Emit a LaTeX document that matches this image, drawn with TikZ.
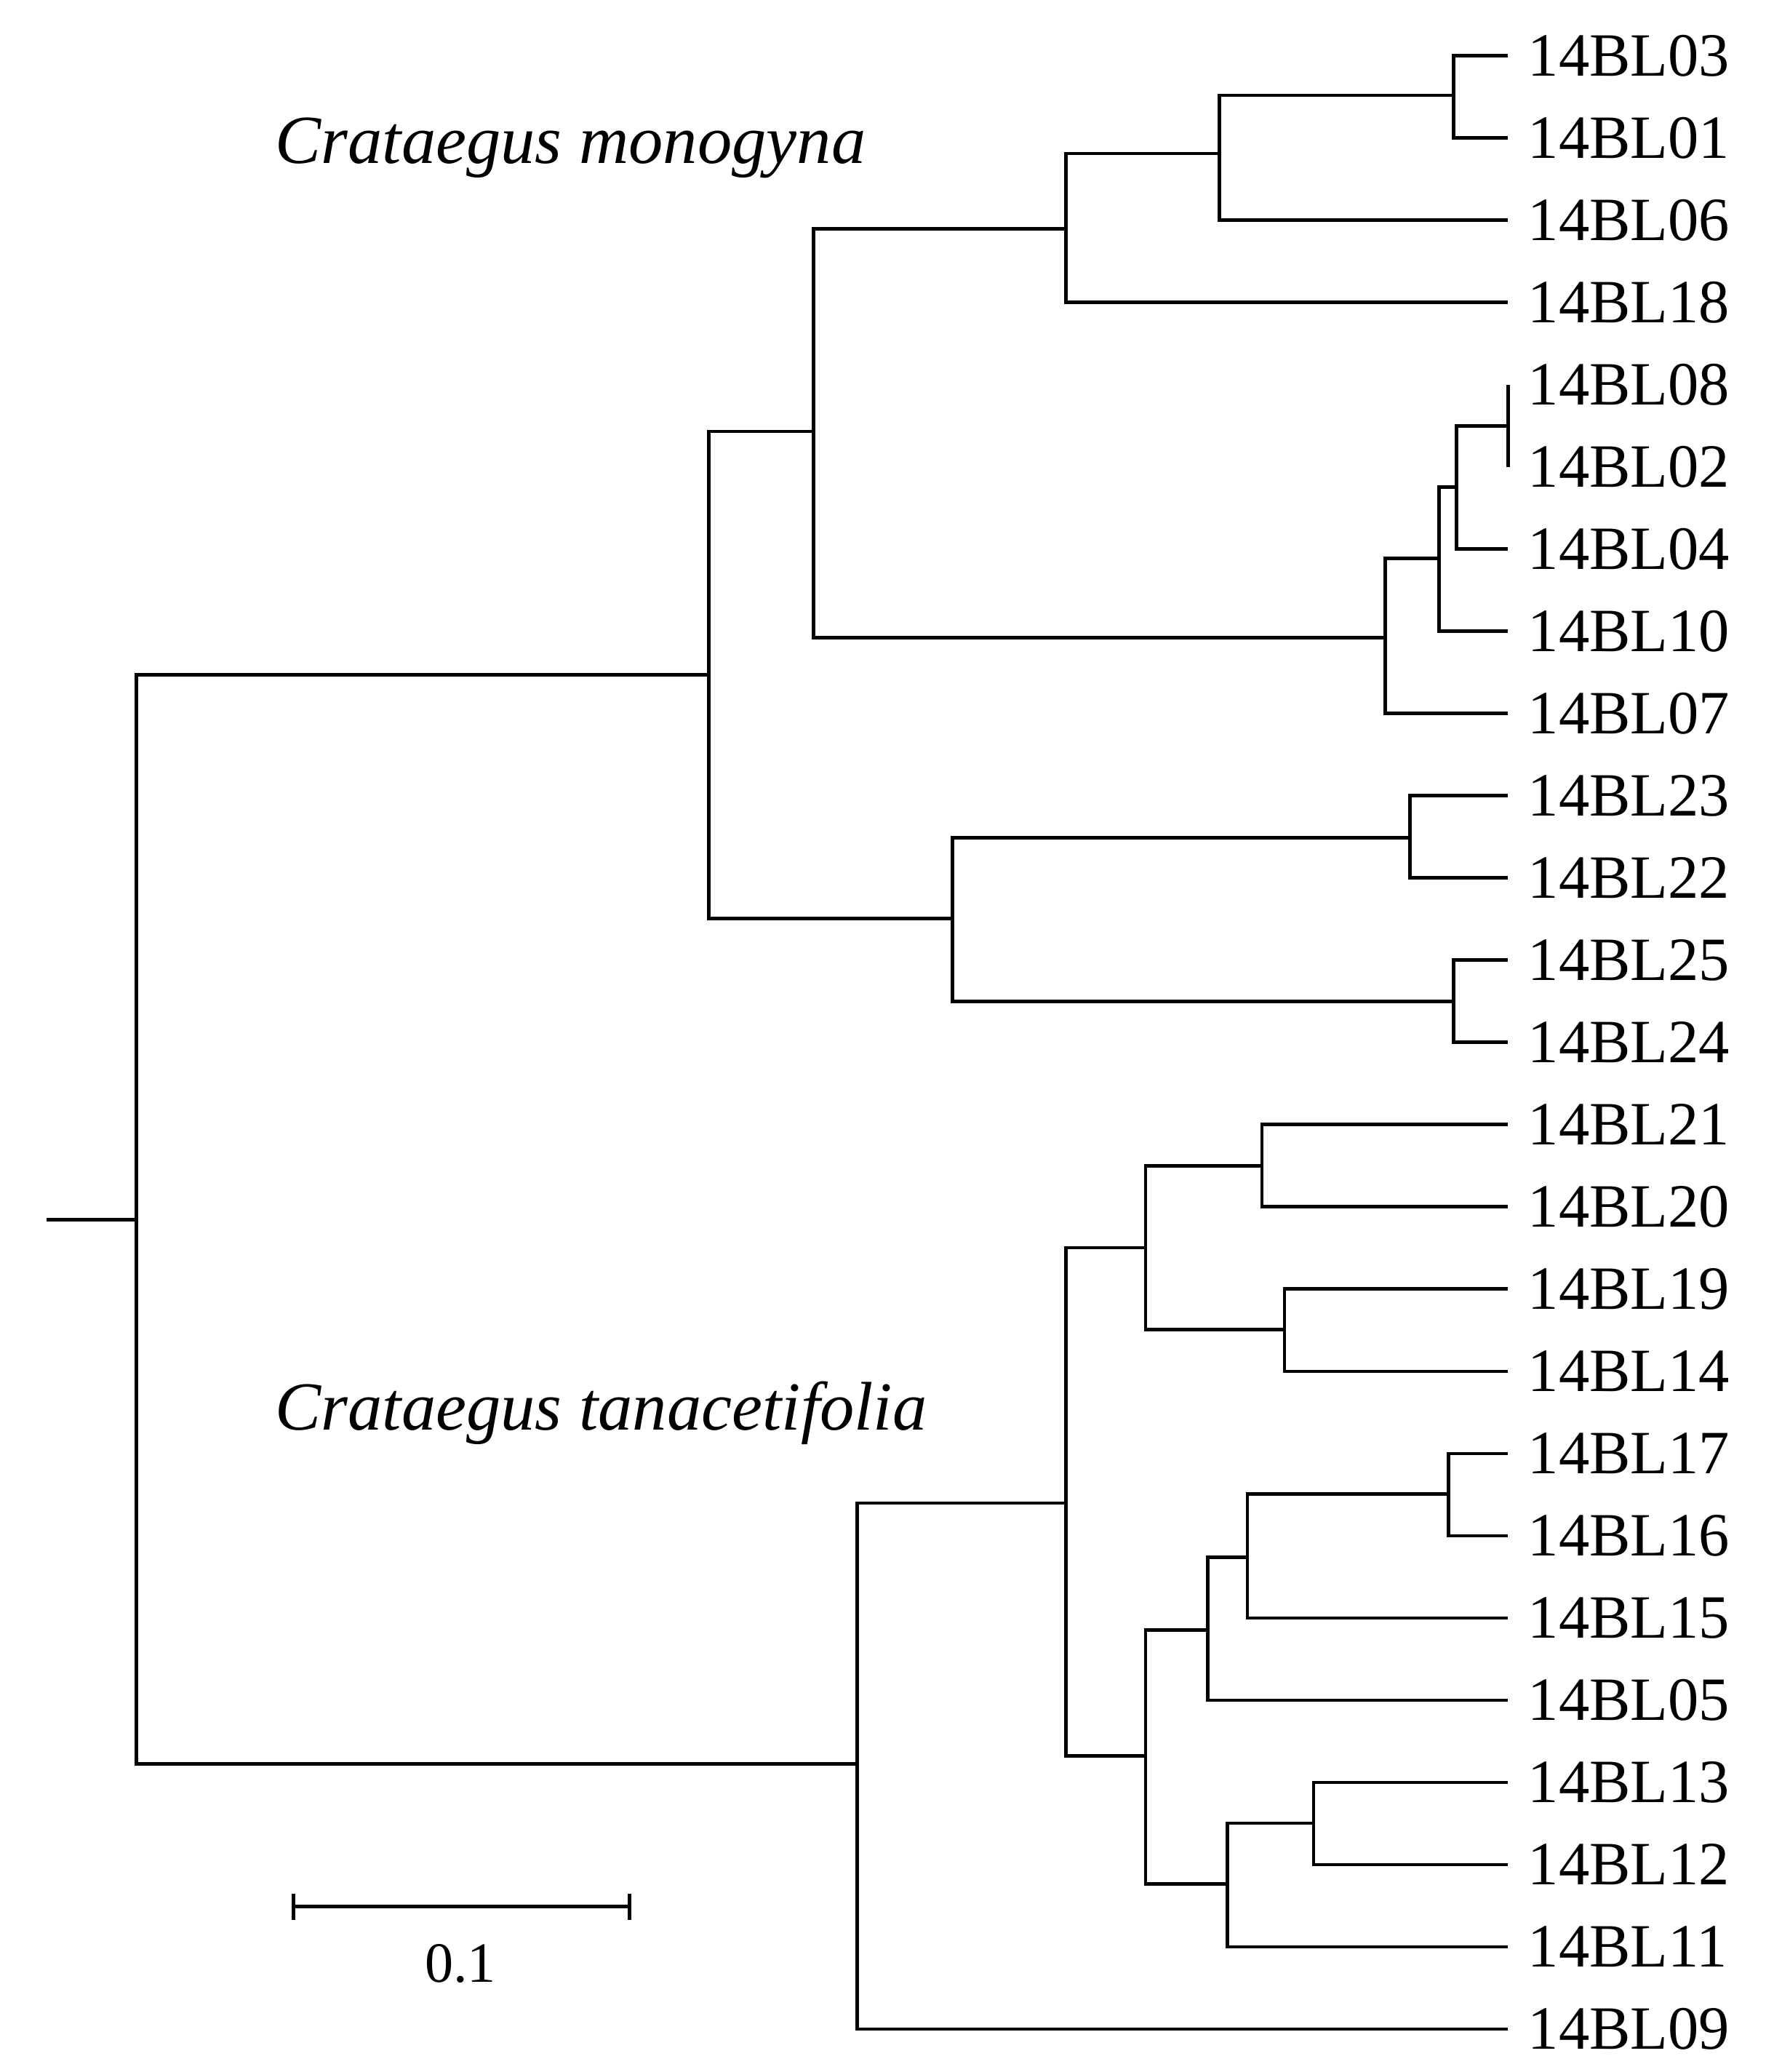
\documentclass[tikz,border=0pt]{standalone}
\usepackage{fontspec}
\setmainfont{Liberation Serif}
\begin{document}
\begin{tikzpicture}[x=1pt,y=-1pt,br/.style={line width=2.6pt},lab/.style={anchor=west,font=\fontsize{46.5}{46.5}\selectfont,inner sep=0pt}]
\useasboundingbox (0,0) rectangle (1341,1566);
\foreach \n [count=\i from 0] in {03,01,06,18,08,02,04,10,07,23,22,25,24,21,20,19,14,17,16,15,05,13,12,11,09}{
  \coordinate (L\n) at (1140,{42+62.15*\i});
  \node[lab] (T\n) at (1155,{42+62.15*\i}) {14BL\n};
}
\coordinate (root0) at (35,922);
\coordinate (r) at (103,922);
\coordinate (a) at (536,510);
\coordinate (b) at (615,326);
\coordinate (c) at (806,173);
\coordinate (d) at (922,116);
\coordinate (e) at (1099,72);
\coordinate (f) at (1047,482);
\coordinate (g) at (1088,422);
\coordinate (h) at (1101,368);
\coordinate (i) at (1140,322);
\coordinate (j) at (720,694);
\coordinate (k) at (1066,633);
\coordinate (l) at (1099,757);
\coordinate (m) at (648,1333);
\coordinate (n) at (806,1136);
\coordinate (o) at (866,943);
\coordinate (p) at (954,881);
\coordinate (q) at (971,1005);
\coordinate (s) at (866,1327);
\coordinate (t) at (913,1232);
\coordinate (u) at (943,1177);
\coordinate (v) at (1095,1129);
\coordinate (w) at (928,1424);
\coordinate (z) at (993,1378);
\draw[br] (root0) -- (r);
\foreach \p/\c in {r/a,r/m,a/b,a/j,b/c,b/f,c/d,c/L18,d/e,d/L06,e/L03,e/L01,f/g,f/L07,g/h,g/L10,h/i,h/L04,i/L08,i/L02,j/k,j/l,k/L23,k/L22,l/L25,l/L24,m/n,m/L09,n/o,n/s,o/p,o/q,p/L21,p/L20,q/L19,q/L14,s/t,s/w,t/u,t/L05,u/v,u/L15,v/L17,v/L16,w/z,w/L11,z/L13,z/L12}
  \draw[br] (\p) |- (\c);
\coordinate (s1) at (222,1441);
\coordinate (s2) at (476,1441);
\draw[br] (s1) -- (s2);
\draw[br] ([yshift=-10]s1) -- ([yshift=10]s1);
\draw[br] ([yshift=-10]s2) -- ([yshift=10]s2);
\node[font=\fontsize{43}{43}\selectfont] (sl) at (348,1484) {0.1};
\node[lab,font=\fontsize{52}{52}\selectfont\itshape] (cm) at (208,112) {Crataegus monogyna};
\node[lab,font=\fontsize{52}{52}\selectfont\itshape] (ct) at (208,1068) {Crataegus tanacetifolia};
\end{tikzpicture}
\end{document}
